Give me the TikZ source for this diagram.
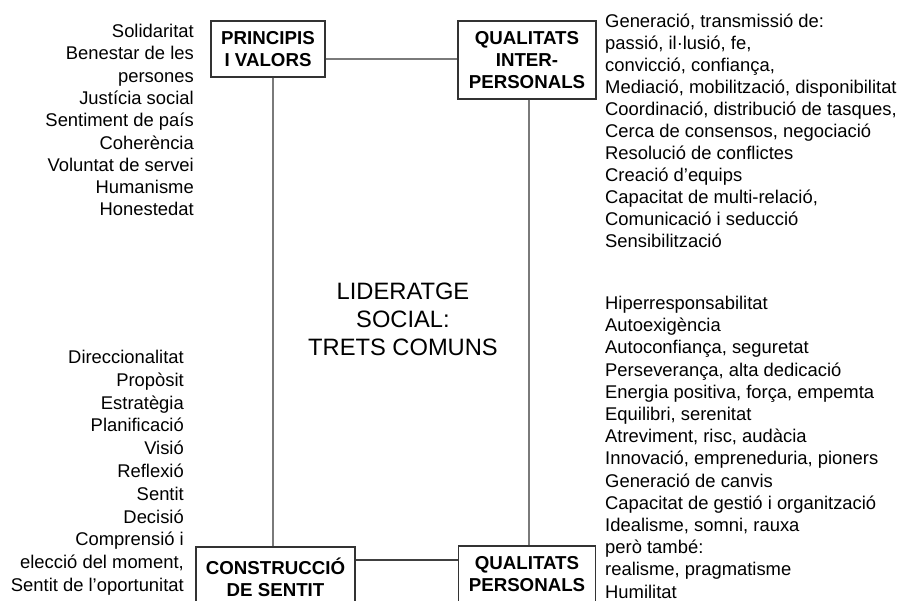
\documentclass[tikz,border=0pt]{standalone}
\usepackage{fontspec}
\setmainfont{Liberation Sans}
\begin{document}
\begin{tikzpicture}[x=1pt,y=-1pt,
  box/.style={draw=black!80, line width=1.3pt, fill=white, inner sep=0pt, align=center,
    font=\fontsize{18.7}{22}\selectfont\bfseries},
  conn/.style={draw=black!52, line width=1.4pt},
  list/.style={inner sep=0pt, font=\fontsize{18.4}{22.3}\selectfont}]
\useasboundingbox (0,0) rectangle (906,601);
% boxes
\node[box, minimum width=114, minimum height=56] (pv) at (268,49) {PRINCIPIS\\I VALORS};
\node[box, minimum width=138, minimum height=78] (qi) at (527,60) {QUALITATS\\INTER-\\PERSONALS};
\node[box, minimum width=159, minimum height=61] (cs) at (275.5,577.5) {CONSTRUCCIÓ\\DE SENTIT};
\node[box, minimum width=137, minimum height=56] (qp) at (527,574) {QUALITATS\\PERSONALS};
% connectors
\coordinate (lx) at (273,0);
\coordinate (rx) at (529,0);
\coordinate (ty) at (0,59);
\coordinate (by) at (0,560);
\draw[conn] (pv.south -| lx) -- (cs.north -| lx);
\draw[conn] (qi.south -| rx) -- (qp.north -| rx);
\draw[conn] (pv.east |- ty) -- (qi.west |- ty);
\draw[conn, draw=black!75, line width=1.1pt] (cs.east |- by) -- (qp.west |- by);
% centre title
\node[inner sep=0pt, align=center, font=\fontsize{23.7}{28}\selectfont, anchor=north] (title) at (403,283)
  {LIDERATGE\\SOCIAL:\\TRETS COMUNS};
% lists
\node[list, align=right, anchor=north east] (l1) at (194,24)
  {Solidaritat\\Benestar de les\\persones\\Justícia social\\Sentiment de país\\Coherència\\Voluntat de servei\\Humanisme\\Honestedat};
\node[list, align=right, anchor=north east, font=\fontsize{18.4}{22.8}\selectfont] (l2) at (184,350)
  {Direccionalitat\\Propòsit\\Estratègia\\Planificació\\Visió\\Reflexió\\Sentit\\Decisió\\Comprensió i\\elecció del moment,\\Sentit de l’oportunitat};
\node[list, align=left, anchor=north west, font=\fontsize{18.4}{22}\selectfont] (r1) at (605,14)
  {Generació, transmissió de:\\passió, il·lusió, fe,\\convicció, confiança,\\Mediació, mobilització, disponibilitat\\Coordinació, distribució de tasques,\\Cerca de consensos, negociació\\Resolució de conflictes\\Creació d’equips\\Capacitat de multi-relació,\\Comunicació i seducció\\Sensibilització};
\node[list, align=left, anchor=north west, font=\fontsize{18.4}{22.2}\selectfont] (r2) at (605,296)
  {Hiperresponsabilitat\\Autoexigència\\Autoconfiança, seguretat\\Perseverança, alta dedicació\\Energia positiva, força, empemta\\Equilibri, serenitat\\Atreviment, risc, audàcia\\Innovació, empreneduria, pioners\\Generació de canvis\\Capacitat de gestió i organització\\Idealisme, somni, rauxa\\però també:\\realisme, pragmatisme\\Humilitat};
\end{tikzpicture}
\end{document}
